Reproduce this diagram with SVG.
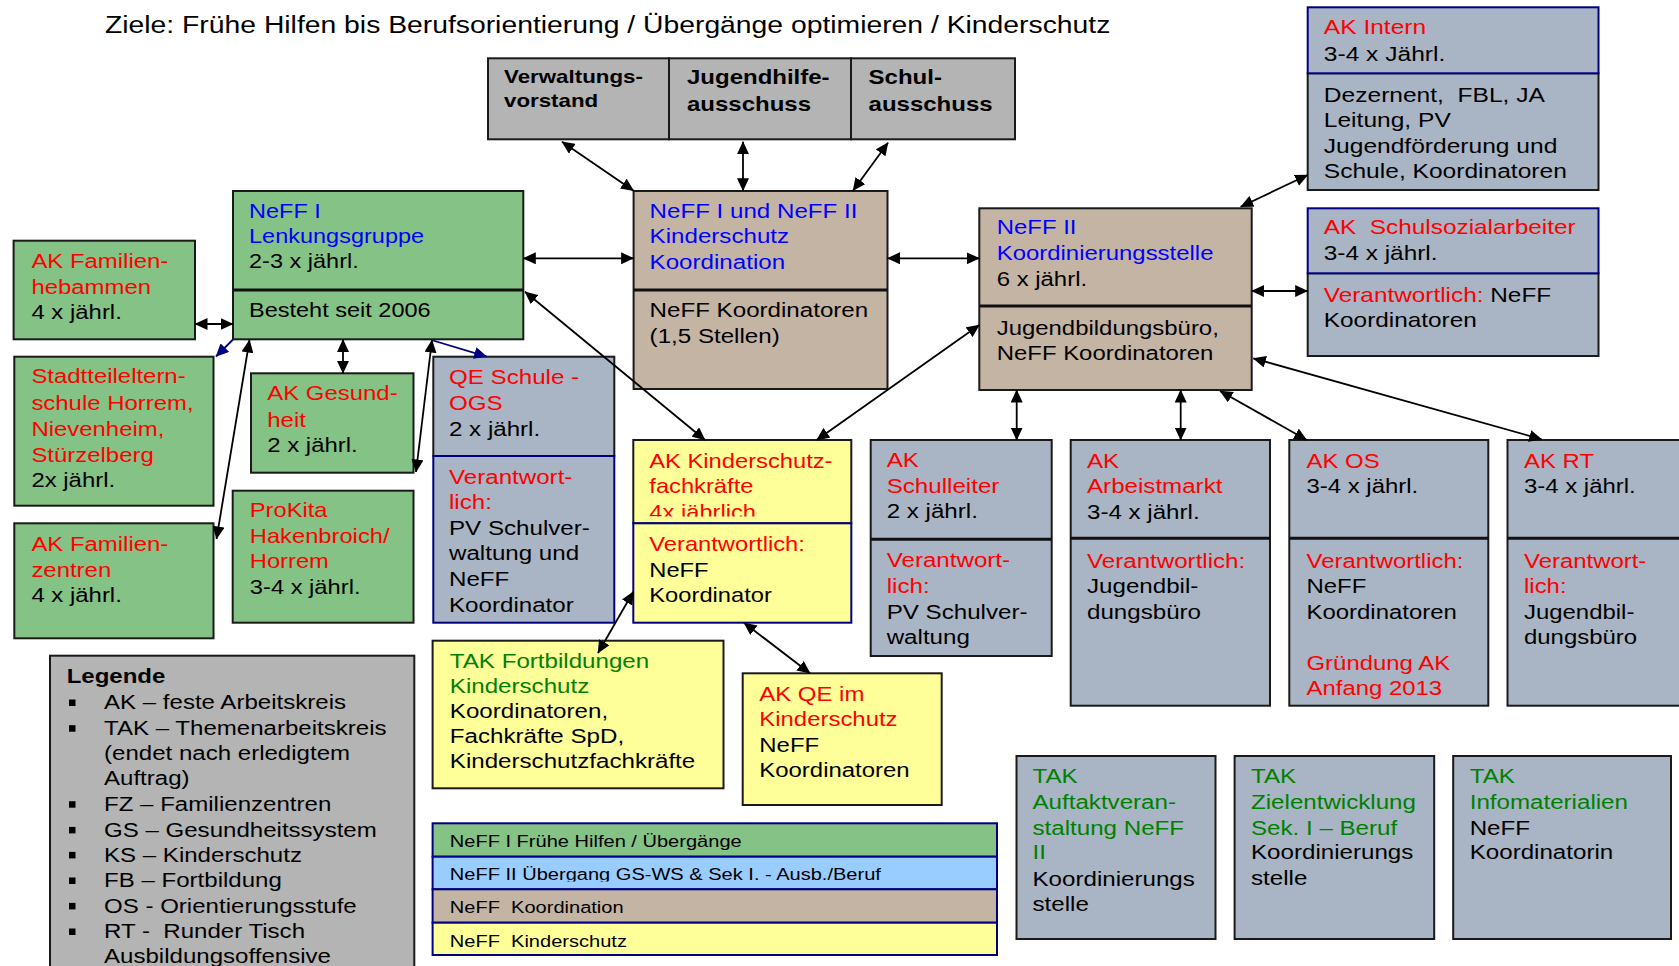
<svg xmlns="http://www.w3.org/2000/svg" width="1679" height="966" viewBox="0 0 1679 966">
<style>
text{font-family:"Liberation Sans",Arial,Helvetica,sans-serif;font-size:21px;white-space:pre;fill:#000}
.box{stroke:#1a1a1a;stroke-width:2}
.nv{stroke:#000080;stroke-width:2}
.dv{stroke:#111;stroke-width:3}
.gn{fill:#85c285}.bg{fill:#a9b5c5}.tan{fill:#c4b4a4}.gray{fill:#b4b4b4}.ye{fill:#ffff99}.lb{fill:#99ccff}
.r{fill:#ff0000}.b{fill:#0000ff}.g{fill:#008000}
.bold{font-weight:bold}
.c{stroke:#000;stroke-width:1.8;fill:none;marker-start:url(#ah);marker-end:url(#ah)}
.cn{stroke:#000080;stroke-width:1.8;fill:none;marker-end:url(#ahn)}
</style>
<defs>
<marker id="ah" viewBox="0 0 13 12" refX="12.5" refY="6" markerWidth="13" markerHeight="12" markerUnits="userSpaceOnUse" orient="auto-start-reverse"><path d="M0,0 L13,6 L0,12 z" fill="#000"/></marker>
<marker id="ahn" viewBox="0 0 13 12" refX="12.5" refY="6" markerWidth="13" markerHeight="12" markerUnits="userSpaceOnUse" orient="auto-start-reverse"><path d="M0,0 L13,6 L0,12 z" fill="#000080"/></marker>
<clipPath id="clipKS"><rect x="634" y="440" width="217" height="76.5"/></clipPath>
<clipPath id="clipS2"><rect x="433" y="857" width="563" height="24.5"/></clipPath>
</defs>
<rect width="1679" height="966" fill="#fff"/>

<g id="title" transform="translate(105,33.3) scale(1.18,1)"><text style="font-size:24px">Ziele: Frühe Hilfen bis Berufsorientierung / Übergänge optimieren / Kinderschutz</text></g>

<g id="verwaltungsvorstand">
<rect class="box gray" x="488" y="58.3" width="181" height="81"/>
<g transform="translate(504,83.3) scale(1.24,1)" class="bold"><text class="bold" style="font-size:18px">Verwaltungs-</text><text class="bold" y="23.4" style="font-size:18px">vorstand</text></g>
</g>
<g id="jugendhilfeausschuss">
<rect class="box gray" x="669" y="58.3" width="182" height="81"/>
<g transform="translate(687,84.3) scale(1.2,1)"><text class="bold" style="font-size:20px">Jugendhilfe-</text><text class="bold" y="26.4" style="font-size:20px">ausschuss</text></g>
</g>
<g id="schulausschuss">
<rect class="box gray" x="851" y="58.3" width="164" height="81"/>
<g transform="translate(868.6,84.3) scale(1.2,1)"><text class="bold" style="font-size:20px">Schul-</text><text class="bold" y="26.4" style="font-size:20px">ausschuss</text></g>
</g>

<g id="lenkungsgruppe">
<rect class="box gn" x="233" y="191" width="290.3" height="148.3"/>
<line class="dv" x1="233" y1="290" x2="523.3" y2="290"/>
<g transform="translate(249,218) scale(1.12,1)"><text class="b">NeFF I</text><text class="b" y="25">Lenkungsgruppe</text><text y="50">2-3 x jährl.</text><text y="99">Besteht seit 2006</text></g>
</g>

<g id="familienhebammen">
<rect class="box gn" x="13.6" y="240.7" width="181.4" height="98.6"/>
<g transform="translate(31.4,268) scale(1.14,1)"><text class="r">AK Familien-</text><text class="r" y="26">hebammen</text><text y="51">4 x jährl.</text></g>
</g>

<g id="koordination">
<rect class="box tan" x="633.6" y="191" width="253.9" height="198"/>
<line class="dv" x1="633.6" y1="290" x2="887.5" y2="290"/>
<g transform="translate(649.6,218.3) scale(1.15,1)"><text class="b">NeFF I und NeFF II</text><text class="b" y="25">Kinderschutz</text><text class="b" y="51">Koordination</text><text y="99">NeFF Koordinatoren</text><text y="125">(1,5 Stellen)</text></g>
</g>

<g id="neff2">
<rect class="box tan" x="979.3" y="208.3" width="272.4" height="181.7"/>
<line class="dv" x1="979.3" y1="306" x2="1251.7" y2="306"/>
<g transform="translate(996.7,234.3) scale(1.14,1)"><text class="b">NeFF II</text><text class="b" y="25.7">Koordinierungsstelle</text><text y="51.7">6 x jährl.</text><text y="100.7">Jugendbildungsbüro,</text><text y="125.7">NeFF Koordinatoren</text></g>
</g>

<g id="akintern">
<rect class="box bg" x="1307.7" y="73.3" width="290.8" height="116.7"/>
<rect class="nv bg" x="1307.7" y="7.3" width="290.8" height="66"/>
<g transform="translate(1323.8,34.3) scale(1.17,1)"><text class="r">AK Intern</text><text y="26.4">3-4 x Jährl.</text><text y="67.4">Dezernent,  FBL, JA</text><text y="92.4">Leitung, PV</text><text y="118.4">Jugendförderung und</text><text y="144">Schule, Koordinatoren</text></g>
</g>

<g id="schulsozialarbeiter">
<rect class="box bg" x="1307.7" y="273.3" width="290.8" height="82.7"/>
<rect class="nv bg" x="1307.7" y="208.3" width="290.8" height="65"/>
<g transform="translate(1323.8,234.3) scale(1.16,1)"><text class="r">AK  Schulsozialarbeiter</text><text y="25.7">3-4 x jährl.</text><text y="67.4"><tspan class="r">Verantwortlich:</tspan> NeFF</text><text y="92.4">Koordinatoren</text></g>
</g>

<g id="stadtteilelternschule">
<rect class="box gn" x="14.3" y="356.7" width="199.2" height="149"/>
<g transform="translate(31.4,383.3) scale(1.14,1)"><text class="r">Stadtteileltern-</text><text class="r" y="26.7">schule Horrem,</text><text class="r" y="52.7">Nievenheim,</text><text class="r" y="78.4">Stürzelberg</text><text y="103.4">2x jährl.</text></g>
</g>

<g id="familienzentren">
<rect class="box gn" x="14.3" y="523.3" width="199.2" height="115"/>
<g transform="translate(31.4,550.7) scale(1.14,1)"><text class="r">AK Familien-</text><text class="r" y="26">zentren</text><text y="51">4 x jährl.</text></g>
</g>

<g id="gesundheit">
<rect class="box gn" x="251" y="373.3" width="162.5" height="99.4"/>
<g transform="translate(267.3,400) scale(1.14,1)"><text class="r">AK Gesund-</text><text class="r" y="26.7">heit</text><text y="52.3">2 x jährl.</text></g>
</g>

<g id="prokita">
<rect class="box gn" x="232.7" y="490.7" width="180.8" height="132"/>
<g transform="translate(249.8,517.3) scale(1.13,1)"><text class="r">ProKita</text><text class="r" y="25.4">Hakenbroich/</text><text class="r" y="51">Horrem</text><text y="76.7">3-4 x jährl.</text></g>
</g>

<g id="qeschule">
<rect class="box bg" x="433.3" y="356.7" width="181" height="99.3"/>
<rect class="nv bg" x="433.3" y="456" width="181" height="166.7"/>
<g transform="translate(449,384.3) scale(1.15,1)"><text class="r">QE Schule -</text><text class="r" y="25.7">OGS</text><text y="51.7">2 x jährl.</text><text class="r" y="99.7">Verantwort-</text><text class="r" y="125">lich:</text><text y="150.7">PV Schulver-</text><text y="175.7">waltung und</text><text y="201.4">NeFF</text><text y="227.4">Koordinator</text></g>
</g>

<g id="kinderschutzfachkraefte">
<rect class="box ye" x="633.3" y="440" width="218" height="83.3"/>
<rect class="nv ye" x="633.3" y="523.3" width="218" height="99.4"/>
<g transform="translate(649.3,467.7) scale(1.13,1)"><text class="r">AK Kinderschutz-</text><text class="r" y="25.6">fachkräfte</text><text class="r" y="83.3">Verantwortlich:</text><text y="109">NeFF</text><text y="134.6">Koordinator</text></g>
<g clip-path="url(#clipKS)"><g transform="translate(649.3,519) scale(1.13,1)"><text class="r">4x jährlich</text></g></g>
</g>

<g id="akqe">
<rect class="box ye" x="742.7" y="673.3" width="199" height="131.7"/>
<g transform="translate(759.3,701) scale(1.14,1)"><text class="r">AK QE im</text><text class="r" y="25">Kinderschutz</text><text y="50.7">NeFF</text><text y="75.7">Koordinatoren</text></g>
</g>

<g id="takfortbildungen">
<rect class="box ye" x="432.6" y="640.7" width="290.9" height="147.6"/>
<g transform="translate(449.8,667.7) scale(1.15,1)"><text class="g">TAK Fortbildungen</text><text class="g" y="25">Kinderschutz</text><text y="50.6">Koordinatoren,</text><text y="75.6">Fachkräfte SpD,</text><text y="100.6">Kinderschutzfachkräfte</text></g>
</g>

<g id="schulleiter">
<rect class="box bg" x="870.7" y="440" width="181" height="216"/>
<line class="dv" x1="870.7" y1="539.3" x2="1051.7" y2="539.3"/>
<g transform="translate(886.7,467) scale(1.15,1)"><text class="r">AK</text><text class="r" y="26">Schulleiter</text><text y="51.5">2 x jährl.</text><text class="r" y="100.5">Verantwort-</text><text class="r" y="126">lich:</text><text y="152">PV Schulver-</text><text y="177.3">waltung</text></g>
</g>

<g id="arbeitsmarkt">
<rect class="box bg" x="1070.7" y="440" width="199.3" height="265.7"/>
<line class="dv" x1="1070.7" y1="538.3" x2="1270" y2="538.3"/>
<g transform="translate(1087,467.7) scale(1.15,1)"><text class="r">AK</text><text class="r" y="25">Arbeistmarkt</text><text y="51.3">3-4 x jährl.</text><text class="r" y="100">Verantwortlich:</text><text y="125.6">Jugendbil-</text><text y="151.3">dungsbüro</text></g>
</g>

<g id="akos">
<rect class="box bg" x="1289.3" y="440" width="199" height="265.7"/>
<line class="dv" x1="1289.3" y1="538.3" x2="1488.3" y2="538.3"/>
<g transform="translate(1306.5,467.7) scale(1.14,1)"><text class="r">AK OS</text><text y="25.6">3-4 x jährl.</text><text class="r" y="100">Verantwortlich:</text><text y="125.6">NeFF</text><text y="151.3">Koordinatoren</text><text class="r" y="202.3">Gründung AK</text><text class="r" y="227.3">Anfang 2013</text></g>
</g>

<g id="akrt">
<rect class="box bg" x="1507.5" y="440" width="200" height="265.7"/>
<line class="dv" x1="1507.5" y1="538.3" x2="1707.5" y2="538.3"/>
<g transform="translate(1524,467.7) scale(1.14,1)"><text class="r">AK RT</text><text y="25.6">3-4 x jährl.</text><text class="r" y="100">Verantwort-</text><text class="r" y="125.6">lich:</text><text y="151.3">Jugendbil-</text><text y="176.6">dungsbüro</text></g>
</g>

<g id="takauftakt">
<rect class="box bg" x="1016.5" y="756" width="199" height="183"/>
<g transform="translate(1032.5,783.3) scale(1.15,1)"><text class="g">TAK</text><text class="g" y="26">Auftaktveran-</text><text class="g" y="51.7">staltung NeFF</text><text class="g" y="76">II</text><text y="102.4">Koordinierungs</text><text y="127.4">stelle</text></g>
</g>

<g id="takziel">
<rect class="box bg" x="1234.6" y="756" width="199.6" height="183"/>
<g transform="translate(1251,783.3) scale(1.15,1)"><text class="g">TAK</text><text class="g" y="26">Zielentwicklung</text><text class="g" y="51.7">Sek. I – Beruf</text><text y="76">Koordinierungs</text><text y="101.7">stelle</text></g>
</g>

<g id="takinfo">
<rect class="box bg" x="1453.2" y="756" width="217.8" height="183"/>
<g transform="translate(1469.7,783.3) scale(1.15,1)"><text class="g">TAK</text><text class="g" y="26">Infomaterialien</text><text y="51.7">NeFF</text><text y="76">Koordinatorin</text></g>
</g>

<g id="legende">
<rect class="box gray" x="50" y="655.7" width="364.3" height="330"/>
<g transform="translate(66.7,683.3) scale(1.2,1)"><text class="bold" style="font-size:20px">Legende</text></g>
<g fill="#000">
<rect x="69" y="699.5" width="6.5" height="6.5"/>
<rect x="69" y="725.2" width="6.5" height="6.5"/>
<rect x="69" y="801.2" width="6.5" height="6.5"/>
<rect x="69" y="826.9" width="6.5" height="6.5"/>
<rect x="69" y="851.9" width="6.5" height="6.5"/>
<rect x="69" y="877.5" width="6.5" height="6.5"/>
<rect x="69" y="902.9" width="6.5" height="6.5"/>
<rect x="69" y="928.5" width="6.5" height="6.5"/>
</g>
<g transform="translate(104,709.3) scale(1.146,1)"><text>AK – feste Arbeitskreis</text><text y="25.7">TAK – Themenarbeitskreis</text><text y="50.7">(endet nach erledigtem</text><text y="75.7">Auftrag)</text><text y="101.7">FZ – Familienzentren</text><text y="127.4">GS – Gesundheitssystem</text><text y="152.4">KS – Kinderschutz</text><text y="178">FB – Fortbildung</text><text y="203.4">OS - Orientierungsstufe</text><text y="229">RT -  Runder Tisch</text><text y="254">Ausbildungsoffensive</text></g>
</g>

<g id="farblegende">
<rect class="nv gn" x="432.6" y="823.3" width="564.4" height="33.4"/>
<rect class="nv lb" x="432.6" y="856.7" width="564.4" height="32.6"/>
<rect class="nv tan" x="432.6" y="889.3" width="564.4" height="33.4"/>
<rect class="nv ye" x="432.6" y="922.7" width="564.4" height="32.3"/>
<g transform="translate(449.8,846.7) scale(1.18,1)"><text style="font-size:17px">NeFF I Frühe Hilfen / Übergänge</text><text y="66.6" style="font-size:17px">NeFF  Koordination</text><text y="100" style="font-size:17px">NeFF  Kinderschutz</text></g>
<g clip-path="url(#clipS2)"><g transform="translate(449.8,880) scale(1.18,1)"><text style="font-size:17px">NeFF II Übergang GS-WS &amp; Sek I. - Ausb./Beruf</text></g></g>
</g>

<g id="connectors">
<line class="c" x1="562" y1="141.7" x2="633.6" y2="190.7"/>
<line class="c" x1="743" y1="141.7" x2="743" y2="190.7"/>
<line class="c" x1="888" y1="142.7" x2="853" y2="190.7"/>
<line class="c" x1="523.3" y1="258.3" x2="633.6" y2="258.3"/>
<line class="c" x1="887.5" y1="258.3" x2="979.3" y2="258.3"/>
<line class="c" x1="195" y1="324" x2="233" y2="324"/>
<line class="cn" x1="233" y1="339.5" x2="216" y2="356.5"/>
<line class="c" x1="249.5" y1="340" x2="216.5" y2="539"/>
<line class="c" x1="343" y1="339.5" x2="343" y2="373.3"/>
<line class="c" x1="432" y1="340" x2="416" y2="472"/>
<line class="cn" x1="433" y1="340.5" x2="486.7" y2="356.7"/>
<line class="c" x1="525" y1="291.7" x2="705" y2="440"/>
<line class="c" x1="979.3" y1="325" x2="816.7" y2="440"/>
<line class="c" x1="1240.7" y1="206.7" x2="1307.7" y2="175"/>
<line class="c" x1="1251.7" y1="291" x2="1307.7" y2="291"/>
<line class="c" x1="1016.7" y1="390" x2="1016.7" y2="440"/>
<line class="c" x1="1180.7" y1="390" x2="1180.7" y2="440"/>
<line class="c" x1="1220" y1="391" x2="1306.7" y2="440"/>
<line class="c" x1="1253.3" y1="358.3" x2="1541.7" y2="439.3"/>
<line class="c" x1="633.3" y1="591.7" x2="598" y2="653"/>
<line class="c" x1="744" y1="622.7" x2="810" y2="673.3"/>
</g>
</svg>
